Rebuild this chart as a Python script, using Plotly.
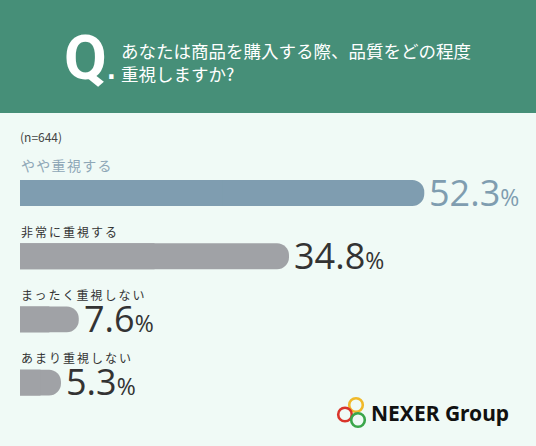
import plotly.graph_objects as go

# 設問と回答データ
question = "あなたは商品を購入する際、品質をどの程度<br>重視しますか?"
sample_size = "(n=644)"
categories = ["やや重視する", "非常に重視する", "まったく重視しない", "あまり重視しない"]
values = [52.3, 34.8, 7.6, 5.3]
brand = "NEXER Group"

W, H = 536, 446
LEFT = 20
PX_PER_PCT = 7.73
BAR_GAP = 63.2
FIRST_BAR = 193

HEADER = "#468f78"
BG = "#f0faf6"
HIGHLIGHT = "#7f9db0"
GREY_BAR = "#a0a2a6"
TEXT = "#333333"
JP = "Noto Sans CJK JP"
NUM = "Open Sans"


def px_x(px):
    return (px - LEFT) / (W - LEFT)


def px_y(py):
    return 1 - py / H


def spaced(text, px):
    return f"<span style='letter-spacing:{px}px'>{text}</span>"


bar_colors = [HIGHLIGHT if i == 0 else GREY_BAR for i in range(len(values))]

fig = go.Figure()
# 右端だけ丸い棒: 丸角の棒 + 左半分を四角い棒で重ねる
fig.add_trace(go.Bar(
    x=values, y=categories, orientation="h", width=0.41,
    marker=dict(color=bar_colors, cornerradius="50%", line_width=0),
    hoverinfo="skip",
))
fig.add_trace(go.Bar(
    x=[v / 2 for v in values], y=categories, orientation="h", width=0.41,
    marker=dict(color=bar_colors, line_width=0),
    hoverinfo="skip",
))

annotations = []
for i, (cat, val) in enumerate(zip(categories, values)):
    first = i == 0
    annotations.append(dict(
        x=0, y=cat, xref="x", yref="y", xanchor="left", yanchor="middle",
        xshift=-1, yshift=28.5 if first else 25, showarrow=False,
        text=spaced(cat, 1.3 if first else 2),
        font=dict(family=JP, size=14 if first else 12,
                  color="#8ea7b7" if first else TEXT),
    ))
    annotations.append(dict(
        x=val, y=cat, xref="x", yref="y", xanchor="left", yanchor="middle",
        xshift=3, yshift=1, showarrow=False,
        text=f"{val:.1f}<span style='font-size:23px'>%</span>",
        font=dict(family=NUM, size=36, color=HIGHLIGHT if first else TEXT),
    ))

annotations += [
    dict(x=px_x(18), y=px_y(136.5), xref="paper", yref="paper",
         xanchor="left", yanchor="middle", showarrow=False, text=sample_size,
         font=dict(family=JP, size=12, color="#444444")),
    dict(x=px_x(62), y=px_y(57), xref="paper", yref="paper",
         xanchor="left", yanchor="middle", showarrow=False,
         text="Q<span style='font-family:DejaVu Sans;font-size:24px'>.</span>",
         font=dict(family="Roboto", size=62, color="white", weight=700)),
    dict(x=px_x(119), y=px_y(61.5), xref="paper", yref="paper",
         xanchor="left", yanchor="middle", align="left", showarrow=False,
         text=question, font=dict(family=JP, size=17.5, color="white")),
    dict(x=px_x(369), y=px_y(413), xref="paper", yref="paper",
         xanchor="left", yanchor="middle", showarrow=False, text=brand,
         font=dict(family="Noto Sans", size=21, color="#111111", weight=700)),
]

shapes = [
    dict(type="rect", xref="paper", yref="paper", x0=px_x(0), x1=px_x(W),
         y0=px_y(113), y1=px_y(0), fillcolor=HEADER, line_width=0, layer="below"),
]
# ロゴの3つの輪
for cx, cy, col in [(356, 405, "#f0b92a"), (345, 414.5, "#d9342b"), (358, 420, "#3aa64a")]:
    shapes.append(dict(type="circle", xref="paper", yref="paper",
                       x0=px_x(cx - 6.8), x1=px_x(cx + 6.8),
                       y0=px_y(cy + 6.8), y1=px_y(cy - 6.8),
                       line=dict(color=col, width=2.6)))

fig.update_layout(
    width=W, height=H,
    margin=dict(l=LEFT, r=0, t=0, b=0),
    paper_bgcolor=BG, plot_bgcolor="rgba(0,0,0,0)",
    barmode="overlay", showlegend=False, hovermode=False,
    xaxis=dict(range=[0, (W - LEFT) / PX_PER_PCT], visible=False, fixedrange=True),
    yaxis=dict(type="category", categoryorder="array", categoryarray=categories,
               range=[(H - FIRST_BAR) / BAR_GAP, -FIRST_BAR / BAR_GAP],
               visible=False, fixedrange=True),
    annotations=annotations,
    shapes=shapes,
)

fig.write_html("out.html", config={"displayModeBar": False},
               post_script="document.body.style.margin='0';")
